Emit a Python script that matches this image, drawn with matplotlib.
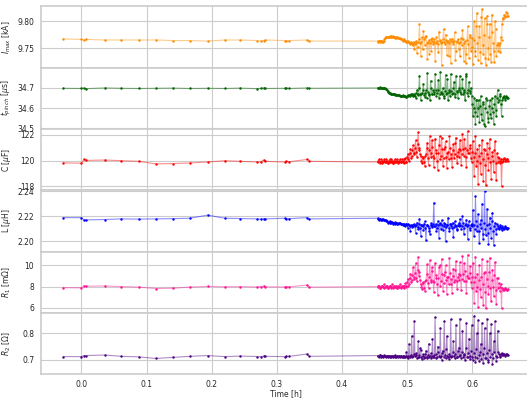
import matplotlib
matplotlib.use("Agg")
import matplotlib.pyplot as plt
import numpy as np
import seaborn as sns

# time stamps [h]: sparse early shots, then the dense run (two interleaved passes)
t_sparse = [-0.028, 0.000, 0.004, 0.007, 0.036, 0.061, 0.088, 0.114, 0.141, 0.166, 0.194,
            0.220, 0.244, 0.270, 0.275, 0.280, 0.282, 0.312, 0.314, 0.319, 0.347, 0.350]
t_dense = [0.455, 0.457, 0.459, 0.461, 0.463, 0.465, 0.467, 0.469, 0.471, 0.473,
           0.475, 0.477, 0.479, 0.481, 0.483, 0.485, 0.487, 0.489, 0.491, 0.493,
           0.495, 0.497, 0.499, 0.501, 0.503, 0.505, 0.507, 0.509, 0.511, 0.513,
           0.515, 0.517, 0.519, 0.521, 0.523, 0.525, 0.527, 0.529, 0.531, 0.533,
           0.535, 0.537, 0.539, 0.541, 0.543, 0.545, 0.547, 0.549, 0.551, 0.553,
           0.555, 0.557, 0.559, 0.561, 0.563, 0.565, 0.567, 0.569, 0.571, 0.573,
           0.575, 0.577, 0.579, 0.581, 0.583, 0.585, 0.587, 0.589, 0.591, 0.593,
           0.595, 0.597, 0.599, 0.601, 0.603, 0.605, 0.607, 0.609, 0.611, 0.613,
           0.615, 0.617, 0.619, 0.621, 0.623, 0.625, 0.627, 0.629, 0.631, 0.633,
           0.635, 0.637, 0.639, 0.641, 0.643, 0.645, 0.647, 0.649, 0.651, 0.653,
           0.655]
t_mid = [0.456, 0.458, 0.460, 0.462, 0.464, 0.466, 0.468, 0.470, 0.472, 0.474,
         0.476, 0.478, 0.480, 0.482, 0.484, 0.486, 0.488, 0.490, 0.492, 0.494,
         0.496, 0.498, 0.500, 0.502, 0.504, 0.506, 0.508, 0.510, 0.512, 0.514,
         0.516, 0.518, 0.520, 0.522, 0.524, 0.526, 0.528, 0.530, 0.532, 0.534,
         0.536, 0.538, 0.540, 0.542, 0.544, 0.546, 0.548, 0.550, 0.552, 0.554,
         0.556, 0.558, 0.560, 0.562, 0.564, 0.566, 0.568, 0.570, 0.572, 0.574,
         0.576, 0.578, 0.580, 0.582, 0.584, 0.586, 0.588, 0.590, 0.592, 0.594,
         0.596, 0.598, 0.600, 0.602, 0.604, 0.606, 0.608, 0.610, 0.612, 0.614,
         0.616, 0.618, 0.620, 0.622, 0.624, 0.626, 0.628, 0.630, 0.632, 0.634,
         0.636, 0.638, 0.640, 0.642, 0.644, 0.646, 0.648, 0.650, 0.652, 0.654]

imax_sparse = [9.767, 9.766, 9.765, 9.766, 9.765, 9.765, 9.765, 9.765, 9.764, 9.764, 9.763,
               9.765, 9.765, 9.764, 9.763, 9.764, 9.765, 9.764, 9.763, 9.764, 9.765, 9.763]
imax_dense = [9.763, 9.764, 9.762, 9.763, 9.761,
              9.766, 9.770, 9.771,
              9.770, 9.772, 9.771, 9.770, 9.772, 9.771, 9.769, 9.770, 9.768, 9.769,
              9.767, 9.765, 9.766, 9.764, 9.762, 9.763, 9.761, 9.758, 9.760, 9.755,
              9.748, 9.760, 9.741, 9.762, 9.795, 9.735, 9.770, 9.782, 9.756, 9.773, 9.730, 9.765, 9.760, 9.745, 9.768,
              9.762, 9.727, 9.770, 9.758, 9.780, 9.764, 9.718, 9.766, 9.761, 9.775,
              9.738, 9.764, 9.760, 9.722, 9.767, 9.762, 9.779, 9.745, 9.764, 9.759,
              9.735, 9.768, 9.784, 9.727, 9.763, 9.740, 9.790, 9.731, 9.770, 9.752,
              9.720, 9.800, 9.735, 9.815, 9.728, 9.790, 9.722, 9.822, 9.740, 9.805,
              9.718, 9.810, 9.730, 9.795, 9.725, 9.780, 9.745, 9.800, 9.735, 9.760,
              9.755, 9.742, 9.765,
              9.806, 9.812, 9.808, 9.815, 9.810]
imax_mid = [9.762, 9.763, 9.764, 9.762, 9.764,
            9.768, 9.771, 9.770,
            9.771, 9.770, 9.772, 9.771, 9.770, 9.769, 9.771, 9.769, 9.768, 9.767,
            9.766, 9.764, 9.765, 9.763, 9.761, 9.762, 9.759, 9.761, 9.757, 9.762,
            9.758, 9.763, 9.752, 9.766, 9.760, 9.762, 9.748, 9.766, 9.770, 9.759, 9.762, 9.740, 9.766, 9.763, 9.757,
            9.766, 9.760, 9.763, 9.742, 9.765, 9.760, 9.762, 9.786, 9.758, 9.765,
            9.761, 9.735, 9.766, 9.763, 9.758, 9.764, 9.728, 9.762, 9.766, 9.748,
            9.762, 9.755, 9.766, 9.760, 9.722, 9.765, 9.758, 9.775, 9.745, 9.768,
            9.765, 9.745, 9.790, 9.760, 9.770, 9.742, 9.808, 9.755, 9.775, 9.732,
            9.795, 9.750, 9.770, 9.740, 9.812, 9.760, 9.725, 9.785, 9.755, 9.745,
            9.760, 9.770, 9.795,
            9.804, 9.810, 9.816, 9.809]

tpinch_sparse = [34.698, 34.697, 34.699, 34.696, 34.700, 34.698, 34.697, 34.698, 34.699, 34.697, 34.698,
                 34.697, 34.699, 34.696, 34.698, 34.700, 34.697, 34.698, 34.699, 34.697, 34.700, 34.698]
tpinch_dense = [34.700, 34.698, 34.702, 34.699, 34.697,
                34.700, 34.696, 34.692,
                34.678, 34.675, 34.672, 34.670, 34.668, 34.671, 34.666, 34.664, 34.667, 34.662,
                34.660, 34.663, 34.658, 34.661, 34.656, 34.659, 34.665, 34.662, 34.670, 34.660,
                34.672, 34.650, 34.690, 34.668, 34.760, 34.640, 34.675, 34.720, 34.655, 34.690, 34.775, 34.665, 34.640, 34.700, 34.670,
                34.680, 34.770, 34.660, 34.690, 34.650, 34.780, 34.672, 34.700, 34.660, 34.765,
                34.675, 34.640, 34.690, 34.770, 34.668, 34.700, 34.655, 34.760, 34.680, 34.690,
                34.760, 34.670, 34.745, 34.680, 34.640, 34.770, 34.690, 34.730, 34.675, 34.660,
                34.560, 34.650, 34.520, 34.640, 34.600, 34.530, 34.660, 34.540, 34.620, 34.510,
                34.650, 34.580, 34.530, 34.640, 34.550, 34.600, 34.520, 34.660, 34.560, 34.690,
                34.640, 34.670, 34.560,
                34.650, 34.660, 34.640, 34.655, 34.650]
tpinch_mid = [34.701, 34.699, 34.697, 34.700, 34.698,
              34.698, 34.694, 34.685,
              34.676, 34.673, 34.671, 34.669, 34.670, 34.667, 34.665, 34.666, 34.663, 34.661,
              34.662, 34.659, 34.660, 34.657, 34.660, 34.664, 34.663, 34.668, 34.664, 34.667,
              34.662, 34.676, 34.665, 34.700, 34.668, 34.672, 34.690, 34.664, 34.676, 34.650, 34.680, 34.672, 34.735, 34.668, 34.690,
              34.672, 34.690, 34.675, 34.740, 34.668, 34.682, 34.676, 34.650, 34.685, 34.672,
              34.745, 34.678, 34.660, 34.684, 34.676, 34.730, 34.670, 34.686, 34.650, 34.700,
              34.680, 34.700, 34.672, 34.690, 34.760, 34.676, 34.660, 34.684, 34.700, 34.620,
              34.600, 34.580, 34.640, 34.560, 34.640, 34.610, 34.570, 34.630, 34.520, 34.600,
              34.640, 34.550, 34.610, 34.570, 34.650, 34.580, 34.620, 34.590, 34.650, 34.630,
              34.660, 34.620, 34.640,
              34.655, 34.648, 34.660, 34.652]

cap_sparse = [119.83, 119.80, 120.10, 120.02, 120.05, 120.00, 119.95, 119.75, 119.78, 119.82, 119.90,
              120.00, 119.95, 119.90, 119.92, 120.05, 119.95, 119.90, 119.95, 119.92, 120.10, 119.95]
cap_dense = [119.9, 120.1, 119.8, 120.0, 119.9,
             120.1, 119.9, 120.0,
             119.8, 120.1, 119.9, 120.0, 119.8, 120.1, 119.9, 120.0, 119.9, 120.1,
             119.9, 120.0, 119.8, 120.2, 119.9, 120.5, 120.0, 120.9, 120.4, 121.2,
             120.6, 121.6, 120.3, 122.2, 121.0, 120.4, 119.8, 120.2, 119.6, 120.5, 121.4, 119.7, 121.9, 120.3, 121.1,
             119.5, 121.7, 120.6, 119.3, 121.2, 120.1, 121.8, 119.6, 120.9, 121.5,
             119.4, 120.7, 121.9, 120.2, 119.5, 121.3, 120.5, 121.8, 119.8, 120.9,
             121.6, 119.7, 122.1, 120.4, 121.0, 119.5, 122.3, 120.6, 121.2, 119.9,
             121.5, 118.8, 121.9, 120.0, 118.2, 121.2, 119.0, 121.6, 118.4, 120.8,
             118.1, 121.4, 119.3, 121.7, 118.6, 120.7, 119.1, 121.5, 118.5, 120.3,
             120.2, 119.8, 118.0,
             120.1, 120.2, 120.0, 120.1, 120.0]
cap_mid = [120.0, 119.9, 120.1, 119.8, 120.0,
           119.9, 120.1, 119.8,
           120.0, 119.9, 120.1, 119.8, 120.0, 119.9, 120.1, 119.8, 120.0, 119.9,
           120.1, 119.9, 120.1, 119.9, 120.3, 120.1, 120.6, 120.2, 120.8, 120.5,
           121.0, 120.7, 121.3, 120.8, 120.5, 120.0, 120.3, 119.9, 120.4, 121.0, 120.2, 120.8, 120.6, 121.6, 120.4,
           120.2, 120.8, 120.0, 120.6, 121.9, 120.4, 120.9, 120.2, 121.1, 120.3,
           120.6, 120.1, 121.0, 120.5, 120.8, 120.2, 121.4, 120.4, 120.7, 120.3,
           120.8, 120.5, 120.9, 121.7, 120.3, 120.8, 120.6, 121.0, 120.2, 120.7,
           120.3, 120.6, 119.6, 120.9, 120.4, 119.8, 120.6, 120.1, 120.9, 119.7,
           120.5, 120.2, 121.0, 119.9, 120.4, 120.0, 120.8, 119.8, 120.6, 119.9,
           120.0, 120.1, 119.9,
           120.0, 120.1, 120.0, 120.1]

ind_sparse = [2.2190, 2.2190, 2.2170, 2.2172, 2.2175, 2.2180, 2.2178, 2.2180, 2.2182, 2.2185, 2.2210,
              2.2185, 2.2183, 2.2180, 2.2178, 2.2182, 2.2180, 2.2185, 2.2180, 2.2182, 2.2190, 2.2180]
ind_dense = [2.2185, 2.2175, 2.2180, 2.2170, 2.2178,
             2.2168, 2.2175, 2.2160,
             2.2150, 2.2162, 2.2145, 2.2155, 2.2140, 2.2152, 2.2145, 2.2138, 2.2148, 2.2150,
             2.2142, 2.2135, 2.2140, 2.2125, 2.2138, 2.2110, 2.2135, 2.2085, 2.2130, 2.2120,
             2.2140, 2.2070, 2.2150, 2.2100, 2.2180, 2.2040, 2.2130, 2.2090, 2.2160, 2.2010, 2.2135, 2.2110, 2.2060, 2.2145, 2.2120,
             2.2310, 2.2120, 2.2080, 2.2160, 2.2030, 2.2140, 2.2170, 2.2095, 2.2150, 2.2000,
             2.2130, 2.2190, 2.2080, 2.2140, 2.2110, 2.2035, 2.2160, 2.2125, 2.2090, 2.2145,
             2.2180, 2.2100, 2.2200, 2.2060, 2.2130, 2.2175, 2.2020, 2.2160, 2.2110, 2.2140,
             2.2250, 2.2040, 2.2360, 2.2080, 2.2220, 2.1990, 2.2170, 2.2300, 2.2020, 2.2400,
             2.2050, 2.2260, 2.1980, 2.2190, 2.2030, 2.2230, 2.1970, 2.2150, 2.2060, 2.2120,
             2.2100, 2.2130, 2.2090,
             2.2110, 2.2100, 2.2120, 2.2105, 2.2110]
ind_mid = [2.2180, 2.2178, 2.2172, 2.2176, 2.2170,
           2.2172, 2.2165, 2.2158,
           2.2156, 2.2150, 2.2152, 2.2146, 2.2150, 2.2142, 2.2148, 2.2140, 2.2145, 2.2140,
           2.2138, 2.2142, 2.2132, 2.2136, 2.2128, 2.2140, 2.2125, 2.2132, 2.2118, 2.2135,
           2.2125, 2.2130, 2.2118, 2.2140, 2.2110, 2.2135, 2.2120, 2.2142, 2.2105, 2.2130, 2.2125, 2.2080, 2.2135, 2.2115, 2.2140,
           2.2125, 2.2140, 2.2110, 2.2130, 2.2145, 2.2100, 2.2135, 2.2120, 2.2140, 2.2118,
           2.2132, 2.2105, 2.2140, 2.2125, 2.2150, 2.2115, 2.2135, 2.2100, 2.2130, 2.2120,
           2.2135, 2.2125, 2.2145, 2.2110, 2.2140, 2.2120, 2.2130, 2.2095, 2.2135, 2.2120,
           2.2130, 2.2100, 2.2160, 2.2120, 2.2080, 2.2140, 2.2110, 2.2060, 2.2150, 2.2100,
           2.2130, 2.2070, 2.2140, 2.2110, 2.2160, 2.2080, 2.2120, 2.2100, 2.2140, 2.2110,
           2.2115, 2.2105, 2.2120,
           2.2105, 2.2115, 2.2110, 2.2100]

r1_sparse = [7.90, 7.88, 8.08, 8.04, 8.06, 8.00, 7.95, 7.82, 7.85, 7.95, 8.02,
             7.98, 8.00, 7.96, 8.00, 8.05, 7.98, 7.96, 8.00, 7.98, 8.15, 7.95]
r1_dense = [8.0, 8.1, 7.9, 8.1, 8.0,
            8.2, 8.0, 8.1,
            7.9, 8.1, 8.0, 8.2, 7.9, 8.0, 8.1, 7.9, 8.0, 8.2,
            8.0, 8.1, 7.9, 8.3, 8.1, 8.7, 8.2, 9.2, 8.6, 9.8,
            8.9, 10.2, 8.5, 10.8, 9.4, 8.2, 7.8, 8.3, 7.6, 8.6, 10.1, 7.9, 10.5, 8.4, 9.5,
            7.5, 10.2, 8.8, 7.2, 9.8, 8.1, 10.6, 7.6, 9.1, 10.0,
            7.3, 8.9, 10.7, 8.2, 7.4, 9.7, 8.6, 10.4, 7.8, 9.2,
            10.3, 7.7, 10.9, 8.5, 9.5, 7.4, 11.0, 8.8, 9.9, 7.9,
            10.2, 6.5, 10.8, 8.0, 6.1, 10.0, 7.0, 10.6, 6.3, 9.4,
            6.0, 10.4, 7.3, 10.7, 6.6, 9.6, 7.1, 10.3, 6.4, 8.8,
            8.3, 7.6, 6.0,
            7.8, 7.7, 7.9, 7.7, 7.8]
r1_mid = [8.1, 7.9, 8.0, 8.1, 7.9,
          8.0, 8.1, 7.9,
          8.0, 8.1, 7.9, 8.0, 8.1, 8.0, 7.9, 8.1, 8.0, 7.9,
          8.1, 8.0, 8.1, 8.0, 8.4, 8.1, 8.8, 8.4, 9.1, 8.7,
          9.3, 8.8, 9.6, 9.0, 8.6, 8.0, 8.4, 7.9, 8.5, 9.2, 8.3, 8.9, 8.6, 9.8, 8.5,
          8.4, 9.1, 8.2, 8.8, 10.0, 8.5, 9.2, 8.3, 9.4, 8.6,
          8.9, 8.2, 9.3, 8.7, 9.0, 8.4, 9.6, 8.5, 8.9, 8.6,
          9.1, 8.7, 9.2, 10.2, 8.5, 9.0, 8.8, 9.3, 8.4, 8.9,
          8.4, 8.9, 7.6, 9.2, 8.6, 7.8, 8.9, 8.2, 9.3, 7.5,
          8.7, 8.1, 9.4, 7.9, 8.6, 8.0, 9.1, 7.7, 8.8, 7.9,
          8.0, 8.2, 7.9,
          7.7, 7.8, 7.8, 7.7]

r2_sparse = [0.712, 0.712, 0.716, 0.716, 0.718, 0.713, 0.711, 0.705, 0.709, 0.713, 0.716,
             0.712, 0.714, 0.712, 0.712, 0.714, 0.713, 0.712, 0.713, 0.713, 0.722, 0.713]
r2_dense = [0.716, 0.712, 0.718, 0.714, 0.711,
            0.717, 0.713, 0.715,
            0.712, 0.716, 0.710, 0.714, 0.711, 0.717, 0.709, 0.713, 0.715, 0.711,
            0.714, 0.710, 0.716, 0.712, 0.730, 0.708, 0.760, 0.712, 0.790, 0.715,
            0.845, 0.718, 0.705, 0.770, 0.712, 0.738, 0.702, 0.720, 0.710, 0.735, 0.706, 0.760, 0.714, 0.705, 0.780,
            0.712, 0.860, 0.705, 0.750, 0.716, 0.820, 0.700, 0.735, 0.845, 0.708,
            0.790, 0.712, 0.702, 0.852, 0.715, 0.770, 0.705, 0.830, 0.710, 0.745,
            0.855, 0.706, 0.810, 0.718, 0.700, 0.840, 0.712, 0.780, 0.703, 0.830,
            0.700, 0.865, 0.690, 0.800, 0.850, 0.695, 0.760, 0.840, 0.688, 0.820,
            0.705, 0.855, 0.692, 0.800, 0.835, 0.686, 0.770, 0.845, 0.695, 0.810,
            0.720, 0.712, 0.725,
            0.718, 0.722, 0.716, 0.720, 0.719]
r2_mid = [0.714, 0.717, 0.712, 0.716, 0.713,
          0.715, 0.711, 0.716,
          0.714, 0.712, 0.715, 0.713, 0.716, 0.712, 0.714, 0.711, 0.713, 0.715,
          0.712, 0.715, 0.711, 0.714, 0.712, 0.716, 0.713, 0.718, 0.712, 0.720,
          0.716, 0.725, 0.712, 0.718, 0.745, 0.710, 0.716, 0.708, 0.722, 0.712, 0.718, 0.709, 0.724, 0.716, 0.712,
          0.718, 0.722, 0.712, 0.730, 0.710, 0.716, 0.725, 0.712, 0.718, 0.740,
          0.714, 0.722, 0.716, 0.710, 0.728, 0.713, 0.720, 0.712, 0.735, 0.716,
          0.718, 0.728, 0.712, 0.722, 0.745, 0.710, 0.724, 0.716, 0.735, 0.712,
          0.725, 0.712, 0.740, 0.705, 0.718, 0.730, 0.702, 0.720, 0.745, 0.708,
          0.725, 0.700, 0.738, 0.712, 0.722, 0.706, 0.730, 0.715, 0.710, 0.728,
          0.716, 0.722, 0.718,
          0.721, 0.717, 0.720, 0.718]

labels = [r"$I_{max}$ [kA]", r"$t_{pinch}$ [$\mu$s]", r"C [$\mu$F]",
          r"L [$\mu$H]", r"$R_1$ [m$\Omega$]", r"$R_2$ [$\Omega$]"]
colors = ["darkorange", "darkgreen", "red", "blue", "deeppink", "indigo"]
yticks = [[9.75, 9.80], [34.5, 34.6, 34.7], [118, 120, 122],
          [2.20, 2.22, 2.24], [6, 8, 10], [0.7, 0.8]]
ylims = [(9.714, 9.827), (34.497, 34.8), (117.7, 122.47),
         (2.192, 2.2408), (5.53, 11.3), (0.646, 0.877)]
yfmt = ["%.2f", "%.1f", "%.0f", "%.2f", "%.0f", "%.1f"]

series = [(imax_sparse, imax_dense, imax_mid), (tpinch_sparse, tpinch_dense, tpinch_mid),
          (cap_sparse, cap_dense, cap_mid), (ind_sparse, ind_dense, ind_mid),
          (r1_sparse, r1_dense, r1_mid), (r2_sparse, r2_dense, r2_mid)]

sns.set_style("whitegrid")
plt.rcParams["font.size"] = 5.5
plt.rcParams["axes.labelsize"] = 5.5
plt.rcParams["xtick.labelsize"] = 5.5
plt.rcParams["ytick.labelsize"] = 5.5

t_all = np.array(t_sparse + t_dense + t_mid)
order = np.argsort(t_all)
t = t_all[order]

fig, axs = plt.subplots(6, 1, sharex=True, figsize=(5.27, 3.98), dpi=100)
fig.subplots_adjust(left=0.078, right=1.006, top=0.984, bottom=0.06, hspace=0)

for i, ax in enumerate(axs):
    sp, de, mi = series[i]
    y = np.array(sp + de + mi)[order]
    ax.plot(t, y, color=colors[i], alpha=0.45, lw=0.8)
    ax.plot(t, y, ".", color=colors[i], ms=1.5)
    ax.set_ylim(*ylims[i])
    ax.set_yticks(yticks[i])
    ax.set_yticklabels([yfmt[i] % v for v in yticks[i]])
    ax.set_ylabel(labels[i], labelpad=3)
    ax.tick_params(axis="both", pad=1.5)
    for s in ax.spines.values():
        s.set_linewidth(1.2)

axs[-1].set_xlim(-0.062, 0.689)
axs[-1].set_xticks([0.0, 0.1, 0.2, 0.3, 0.4, 0.5, 0.6])
axs[-1].set_xticklabels(["0.0", "0.1", "0.2", "0.3", "0.4", "0.5", "0.6"])
axs[-1].tick_params(axis="x", pad=1)
axs[-1].set_xlabel("Time [h]", labelpad=0)
fig.align_ylabels(axs)

plt.savefig("out.png", dpi=100)
